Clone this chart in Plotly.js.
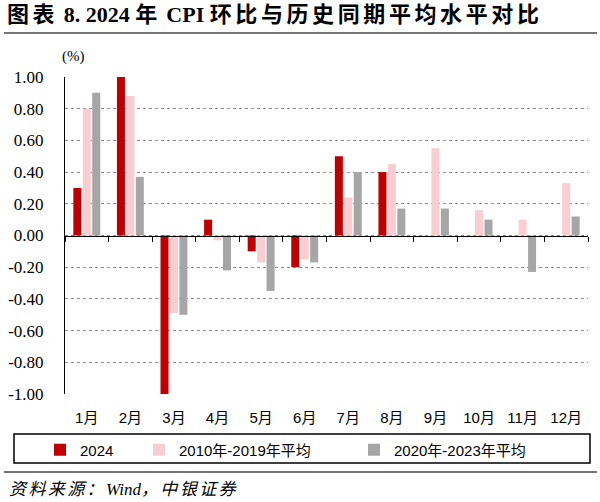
<!DOCTYPE html>
<html>
<head>
<meta charset="utf-8">
<script src="https://cdn.plot.ly/plotly-3.0.1.min.js"></script>
<style>html,body{margin:0;padding:0;background:#fff;}#chart{width:600px;height:502px;}</style>
</head>
<body>
<div id="chart"></div>
<script>
const months = ["1月","2月","3月","4月","5月","6月","7月","8月","9月","10月","11月","12月"];
const cpi2024 = [0.3, 1.0, -1.0, 0.1, -0.1, -0.2, 0.5, 0.4, null, null, null, null];
const avg2010_2019 = [0.80, 0.88, -0.49, -0.03, -0.17, -0.15, 0.24, 0.45, 0.55, 0.16, 0.10, 0.33];
const avg2020_2023 = [0.90, 0.37, -0.50, -0.22, -0.35, -0.17, 0.40, 0.17, 0.17, 0.10, -0.23, 0.12];
const seriesNames = ["2024", "2010年-2019年平均", "2020年-2023年平均"];
const yTickVals = [1.0, 0.8, 0.6, 0.4, 0.2, 0.0, -0.2, -0.4, -0.6, -0.8, -1.0];
const yTickText = ["1.00","0.80","0.60","0.40","0.20","0.00","-0.20","-0.40","-0.60","-0.80","-1.00"];

const W = 600, H = 502, L = 65, R = 12, T = 77, B = 108;
const pw = W - L - R, ph = H - T - B;
const px = x => (x - L) / pw;
const py = y => (H - B - y) / ph;

const sansFont = "Liberation Sans, Arial, Noto Sans CJK SC";
const serifFont = "Liberation Serif, Times New Roman, Noto Sans CJK SC";

const traces = [
  {type:"bar", name:seriesNames[0], x:months, y:cpi2024, marker:{color:"#C00000"}, legend:"legend"},
  {type:"bar", name:seriesNames[1], x:months, y:avg2010_2019, marker:{color:"#F9CDD2"}, legend:"legend2"},
  {type:"bar", name:seriesNames[2], x:months, y:avg2020_2023, marker:{color:"#A6A6A6"}, legend:"legend3"}
];

const legendBase = {orientation:"h", yanchor:"middle", xanchor:"left", bgcolor:"rgba(0,0,0,0)",
  font:{family:sansFont, size:15, color:"#000"}, borderwidth:0};

const sp = (s, ls) => "<span style=\"letter-spacing:" + ls + "px\">" + s + "</span>";
const titleText = sp("图表", 3.6) + " 8. 2024 " + sp("年", 3.6) + " CPI " + sp("环比与历史同期平均水平对比", 3.6);
const sourceText = "<i>" + sp("资料来源：", 2.4) + "Wind" + sp("，中银证券", 2.4) + "</i>";

const layout = {
  width: W, height: H,
  margin:{l:L, r:R, t:T, b:B, pad:0},
  paper_bgcolor:"#fff", plot_bgcolor:"#fff",
  barmode:"group", bargap:0.35, bargroupgap:0.15,
  title:{text:titleText, xref:"container", yref:"container",
    x:7/W, xanchor:"left", y:1-14/H, yanchor:"middle",
    font:{family:serifFont, size:22, color:"#000", weight:"bold"}},
  xaxis:{type:"category", anchor:"free", position:0.5, showline:true, linecolor:"#000", linewidth:1.5,
    ticks:"outside", tickson:"boundaries", ticklen:5, tickcolor:"#000", tickwidth:1,
    showgrid:false, zeroline:false, ticklabelstandoff:168,
    tickfont:{family:sansFont, size:15, color:"#000"}, fixedrange:true},
  yaxis:{range:[-1,1], tickvals:yTickVals, ticktext:yTickText, showline:true, linecolor:"#000", linewidth:1,
    ticks:"", showgrid:true, gridcolor:"#8c8c8c", griddash:"dot", gridwidth:1, zeroline:false,
    ticklabelstandoff:17, tickfont:{family:serifFont, size:17, color:"#000"}, fixedrange:true},
  legend: Object.assign({}, legendBase, {x:px(40), y:py(450)}),
  legend2: Object.assign({}, legendBase, {x:px(139), y:py(450)}),
  legend3: Object.assign({}, legendBase, {x:px(354), y:py(450)}),
  annotations:[
    {text:"(%)", xref:"paper", yref:"paper", x:px(73), y:py(57), xanchor:"center", yanchor:"middle",
      showarrow:false, font:{family:serifFont, size:15, color:"#000"}},
    {text:sourceText, xref:"paper", yref:"paper", x:px(7), y:py(489), xanchor:"left", yanchor:"middle",
      showarrow:false, font:{family:serifFont, size:17, color:"#000"}}
  ],
  shapes:[
    {type:"line", xref:"paper", yref:"paper", x0:px(4), x1:px(597), y0:py(33), y1:py(33), line:{color:"#777", width:2}},
    {type:"rect", xref:"paper", yref:"paper", x0:px(14), x1:px(590), y0:py(463), y1:py(434), line:{color:"#000", width:1.5}},
    {type:"line", xref:"paper", yref:"paper", x0:px(4), x1:px(597), y0:py(472), y1:py(472), line:{color:"#444", width:1.5}}
  ],
  showlegend:true
};

Plotly.newPlot("chart", traces, layout, {displayModeBar:false, staticPlot:true});
</script>
</body>
</html>
